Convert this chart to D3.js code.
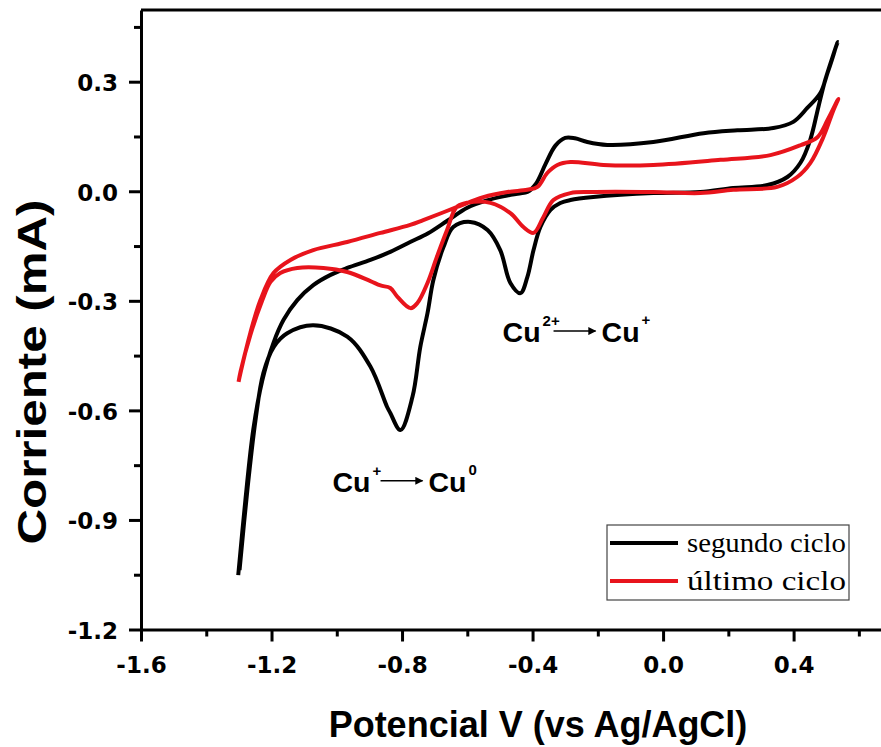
<!DOCTYPE html>
<html><head><meta charset="utf-8">
<script src="https://cdn.jsdelivr.net/npm/d3@7"></script>
<style>
html,body{margin:0;padding:0;background:#fff;}
svg{display:block;}
</style></head>
<body>
<script>
// ---- data ----
const seriesNames = ["segundo ciclo", "último ciclo"];
const seriesColors = ["#000000", "#e8141c"];

// segundo ciclo: anodic sweep (-1.3 -> 0.53 V), then cathodic sweep back
const segundoV = [-1.302,-1.280,-1.256,-1.228,-1.194,-1.163,-1.121,-1.072,-1.019,-0.968,-0.897,-0.836,-0.775,-0.720,-0.660,-0.600,-0.540,-0.490,-0.440,-0.416,-0.390,-0.360,-0.330,-0.300,-0.270,-0.232,-0.171,-0.030,0.124,0.228,0.338,0.399,0.442,0.482,0.504,0.535,
  0.497,0.476,0.451,0.421,0.381,0.320,0.215,0.114,-0.030,-0.214,-0.284,-0.315,-0.345,-0.376,-0.397,-0.416,-0.437,-0.468,-0.499,-0.538,-0.591,-0.643,-0.673,-0.704,-0.722,-0.744,-0.768,-0.805,-0.836,-0.846,-0.897,-0.968,-1.072,-1.152,-1.193,-1.225,-1.249,-1.274,-1.298];
const segundoI = [-1.051,-0.845,-0.653,-0.517,-0.415,-0.352,-0.298,-0.257,-0.229,-0.210,-0.188,-0.166,-0.139,-0.115,-0.080,-0.045,-0.025,-0.014,-0.006,-0.002,0.020,0.075,0.125,0.146,0.145,0.135,0.127,0.135,0.159,0.167,0.173,0.190,0.228,0.269,0.324,0.409,
  0.305,0.231,0.141,0.078,0.039,0.017,0.009,-0.002,-0.005,-0.016,-0.024,-0.032,-0.051,-0.098,-0.161,-0.235,-0.279,-0.251,-0.161,-0.106,-0.084,-0.098,-0.153,-0.243,-0.334,-0.426,-0.563,-0.654,-0.607,-0.590,-0.480,-0.398,-0.367,-0.389,-0.426,-0.498,-0.626,-0.818,-1.037];

// último ciclo
const ultimoV = [-1.301,-1.295,-1.265,-1.234,-1.194,-1.142,-1.072,-0.968,-0.866,-0.775,-0.735,-0.631,-0.551,-0.477,-0.416,-0.385,-0.355,-0.324,-0.284,-0.183,-0.030,0.176,0.329,0.421,0.473,0.504,0.537,
  0.522,0.491,0.451,0.411,0.350,0.215,0.114,-0.030,-0.223,-0.284,-0.336,-0.367,-0.397,-0.428,-0.468,-0.529,-0.581,-0.631,-0.662,-0.693,-0.722,-0.753,-0.774,-0.814,-0.836,-0.866,-0.897,-0.968,-1.041,-1.121,-1.173,-1.203,-1.228,-1.265,-1.295,-1.301];
const ultimoI = [-0.522,-0.497,-0.388,-0.298,-0.224,-0.188,-0.161,-0.139,-0.114,-0.092,-0.079,-0.043,-0.016,-0.002,0.004,0.012,0.050,0.072,0.080,0.072,0.072,0.086,0.099,0.126,0.148,0.195,0.253,
  0.222,0.148,0.077,0.039,0.012,0.004,-0.005,-0.002,-0.002,-0.005,-0.024,-0.071,-0.114,-0.098,-0.060,-0.032,-0.029,-0.042,-0.106,-0.179,-0.251,-0.306,-0.320,-0.289,-0.265,-0.258,-0.246,-0.221,-0.210,-0.210,-0.224,-0.248,-0.298,-0.394,-0.494,-0.522];

const xMajorTicks = [-1.6,-1.2,-0.8,-0.4,0.0,0.4];
const xMinorTicks = [-1.4,-1.0,-0.6,-0.2,0.2,0.6];
const yMajorTicks = [-1.2,-0.9,-0.6,-0.3,0.0,0.3];
const yMinorTicks = [-1.05,-0.75,-0.45,-0.15,0.15,0.45];

const xTitle = "Potencial V (vs Ag/AgCl)";
const yTitle = "Corriente (mA)";

// ---- drawing ----
const W = 881, H = 747;
const svg = d3.select("body").append("svg").attr("width", W).attr("height", H);

const x = d3.scaleLinear().domain([-1.6, 0.7]).range([141, 141 + 2.3 * 326.3]);
const y = d3.scaleLinear().domain([-1.2, 0.496]).range([629.5, 629.5 - 1.696 * 365.2]);

const fmt = d => d.toFixed(1);
const tickFont = "'DejaVu Sans', sans-serif";

// curves
const line = d3.line().x(d => x(d[0])).y(d => y(d[1])).curve(d3.curveCatmullRom.alpha(0.5));
const seg = segundoV.map((v, i) => [v, segundoI[i]]);
const ult = ultimoV.map((v, i) => [v, ultimoI[i]]);
const g = svg.append("g");
g.append("path").datum(seg).attr("d", line).attr("fill", "none")
  .attr("stroke", seriesColors[0]).attr("stroke-width", 4).attr("stroke-linejoin", "round");
g.append("path").datum(ult).attr("d", line).attr("fill", "none")
  .attr("stroke", seriesColors[1]).attr("stroke-width", 4).attr("stroke-linejoin", "round");

// top frame line
svg.append("line").attr("x1", x(-1.6)).attr("x2", W).attr("y1", y(0.496)).attr("y2", y(0.496))
  .attr("stroke", "#000").attr("stroke-width", 3);

// x axis
svg.append("g").attr("transform", `translate(0,${y(-1.2)})`)
  .call(d3.axisBottom(x).tickValues(xMajorTicks).tickFormat(fmt).tickSize(12).tickSizeOuter(0).tickPadding(15));
const xMinor = svg.append("g").attr("transform", `translate(0,${y(-1.2)})`)
  .call(d3.axisBottom(x).tickValues(xMinorTicks).tickFormat("").tickSize(7).tickSizeOuter(0));
xMinor.select(".domain").remove();

// y axis
const yAxis = svg.append("g").attr("transform", `translate(${x(-1.6)},0)`)
  .call(d3.axisLeft(y).tickValues(yMajorTicks).tickFormat(fmt).tickSize(12).tickSizeOuter(0).tickPadding(11));
const yMinor = svg.append("g").attr("transform", `translate(${x(-1.6)},0)`)
  .call(d3.axisLeft(y).tickValues(yMinorTicks).tickFormat("").tickSize(7).tickSizeOuter(0));
yMinor.select(".domain").remove();

svg.selectAll(".domain").attr("stroke-width", 3).attr("stroke", "#000");
svg.selectAll(".tick line").attr("stroke-width", 3).attr("stroke", "#000");
svg.selectAll(".tick text").attr("font-family", tickFont).attr("font-weight", "bold")
  .attr("font-size", 23).attr("fill", "#000");
yAxis.selectAll(".tick text").attr("dy", "0.38em");

// titles
svg.append("text").attr("x", 538).attr("y", 737).attr("text-anchor", "middle")
  .attr("font-family", "'Liberation Sans', Arial, sans-serif").attr("font-weight", "bold")
  .attr("font-size", 36).text(xTitle);
svg.append("text").attr("transform", "translate(46,372) rotate(-90)").attr("text-anchor", "middle")
  .attr("font-family", "'Liberation Sans', Arial, sans-serif").attr("font-weight", "bold")
  .attr("font-size", 40).attr("textLength", 345).attr("lengthAdjust", "spacingAndGlyphs").text(yTitle);

// arrow marker
const defs = svg.append("defs");
defs.append("marker").attr("id", "ah").attr("viewBox", "0 0 10 10").attr("refX", 9).attr("refY", 5)
  .attr("markerWidth", 11).attr("markerHeight", 8).attr("markerUnits", "userSpaceOnUse").attr("orient", "auto")
  .append("path").attr("d", "M0,0 L10,5 L0,10 Z").attr("fill", "#000");

// annotations
function annot(v, i, sup1, sup2) {
  const ax = x(v), ay = y(i);
  const a = svg.append("g").attr("transform", `translate(${ax},${ay})`)
    .attr("font-family", "'Liberation Sans', Arial, sans-serif").attr("font-weight", "bold").attr("fill", "#000");
  a.append("text").attr("x", 0).attr("y", 0).attr("font-size", 28).attr("textLength", 38)
    .attr("lengthAdjust", "spacingAndGlyphs").text("Cu");
  a.append("text").attr("x", 40).attr("y", -16).attr("font-size", 15).text(sup1);
  const arrowStart = sup1.length > 1 ? 51 : 48;
  a.append("line").attr("x1", arrowStart).attr("x2", arrowStart + 42).attr("y1", -11).attr("y2", -11)
    .attr("stroke", "#000").attr("stroke-width", 1.5).attr("marker-end", "url(#ah)");
  const cx = arrowStart + 48;
  a.append("text").attr("x", cx).attr("y", 0).attr("font-size", 28).attr("textLength", 38)
    .attr("lengthAdjust", "spacingAndGlyphs").text("Cu");
  a.append("text").attr("x", cx + 40).attr("y", -17).attr("font-size", 15).text(sup2);
}
annot(-1.013, -0.823, "+", "0");
annot(-0.492, -0.413, "2+", "+");

// legend
const lg = svg.append("g").attr("transform", "translate(607,525)");
lg.append("rect").attr("width", 242).attr("height", 75).attr("fill", "#fff")
  .attr("stroke", "#444").attr("stroke-width", 1.2);
seriesNames.forEach((name, k) => {
  const ly = 18 + k * 38;
  lg.append("line").attr("x1", 3).attr("x2", 71).attr("y1", ly).attr("y2", ly)
    .attr("stroke", seriesColors[k]).attr("stroke-width", 4);
  lg.append("text").attr("x", 80).attr("y", ly + 9)
    .attr("font-family", "'Liberation Serif', 'Times New Roman', serif")
    .attr("font-size", 27).attr("fill", "#000")
    .attr("textLength", 159).attr("lengthAdjust", "spacingAndGlyphs").text(name);
});
</script>
</body></html>
